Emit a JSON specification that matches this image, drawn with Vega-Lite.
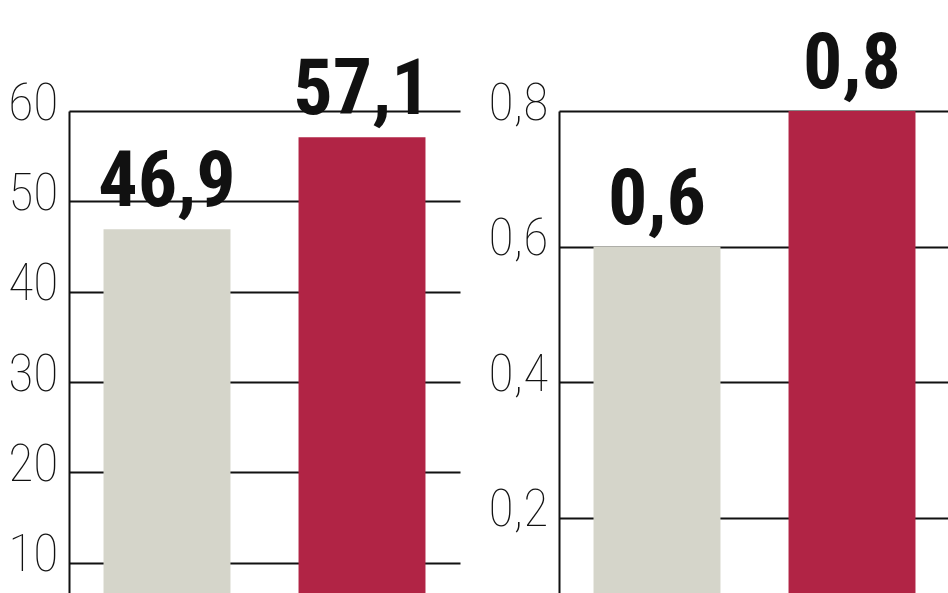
{
  "$schema": "https://vega.github.io/schema/vega-lite/v6.json",
  "autosize": {"type": "none"},
  "padding": {"left": 69, "top": 111, "right": 879, "bottom": 482},
  "background": "white",
  "bounds": "flush",
  "spacing": 99,
  "datasets": {
    "left": [
      {"kat": "A", "wartosc": 46.9},
      {"kat": "B", "wartosc": 57.1}
    ],
    "right": [
      {"kat": "A", "wartosc": 0.6},
      {"kat": "B", "wartosc": 0.8}
    ]
  },
  "config": {
    "locale": {"number": {"decimal": ",", "thousands": " ", "grouping": [3], "currency": ["", " zł"]}},
    "view": {"stroke": null},
    "axisY": {
      "domainColor": "#111111",
      "domainWidth": 2,
      "gridColor": "#111111",
      "gridWidth": 1.8,
      "gridOpacity": 1,
      "ticks": false,
      "labelFont": "Roboto Condensed, Roboto, sans-serif",
      "labelFontSize": 52,
      "labelFontWeight": 100,
      "labelColor": "#111111",
      "labelPadding": 11,
      "labelBaseline": "alphabetic",
      "labelOffset": 8,
      "title": null
    },
    "axisX": {"disable": true},
    "bar": {"clip": true},
    "text": {
      "font": "Roboto Condensed, Roboto, sans-serif",
      "fontSize": 78,
      "fontWeight": "bold",
      "color": "#111111",
      "baseline": "alphabetic",
      "align": "center",
      "dy": -23
    }
  },
  "hconcat": [
    {
      "width": 391,
      "height": 542,
      "data": {"name": "left"},
      "encoding": {
        "x": {"field": "kat", "type": "nominal", "scale": {"paddingInner": 0.349, "paddingOuter": 0.177}},
        "y": {"field": "wartosc", "type": "quantitative", "scale": {"domain": [0, 60], "nice": false},
              "axis": {"values": [10, 20, 30, 40, 50, 60], "format": "d"}}
      },
      "layer": [
        {"mark": {"type": "bar"},
         "encoding": {"color": {"field": "kat", "type": "nominal", "scale": {"domain": ["A", "B"], "range": ["#d5d5ca", "#b12445"]}, "legend": null}}},
        {"mark": {"type": "text"},
         "encoding": {"text": {"field": "wartosc", "type": "quantitative", "format": ".1f"}}}
      ]
    },
    {
      "width": 391,
      "height": 542,
      "data": {"name": "right"},
      "encoding": {
        "x": {"field": "kat", "type": "nominal", "scale": {"paddingInner": 0.349, "paddingOuter": 0.177}},
        "y": {"field": "wartosc", "type": "quantitative", "scale": {"domain": [0, 0.8], "nice": false},
              "axis": {"values": [0.2, 0.4, 0.6, 0.8], "format": ".1f"}}
      },
      "layer": [
        {"mark": {"type": "bar"},
         "encoding": {"color": {"field": "kat", "type": "nominal", "scale": {"domain": ["A", "B"], "range": ["#d5d5ca", "#b12445"]}, "legend": null}}},
        {"mark": {"type": "text"},
         "encoding": {"text": {"field": "wartosc", "type": "quantitative", "format": ".1f"}}}
      ]
    }
  ],
  "resolve": {"scale": {"y": "independent", "color": "shared"}}
}
